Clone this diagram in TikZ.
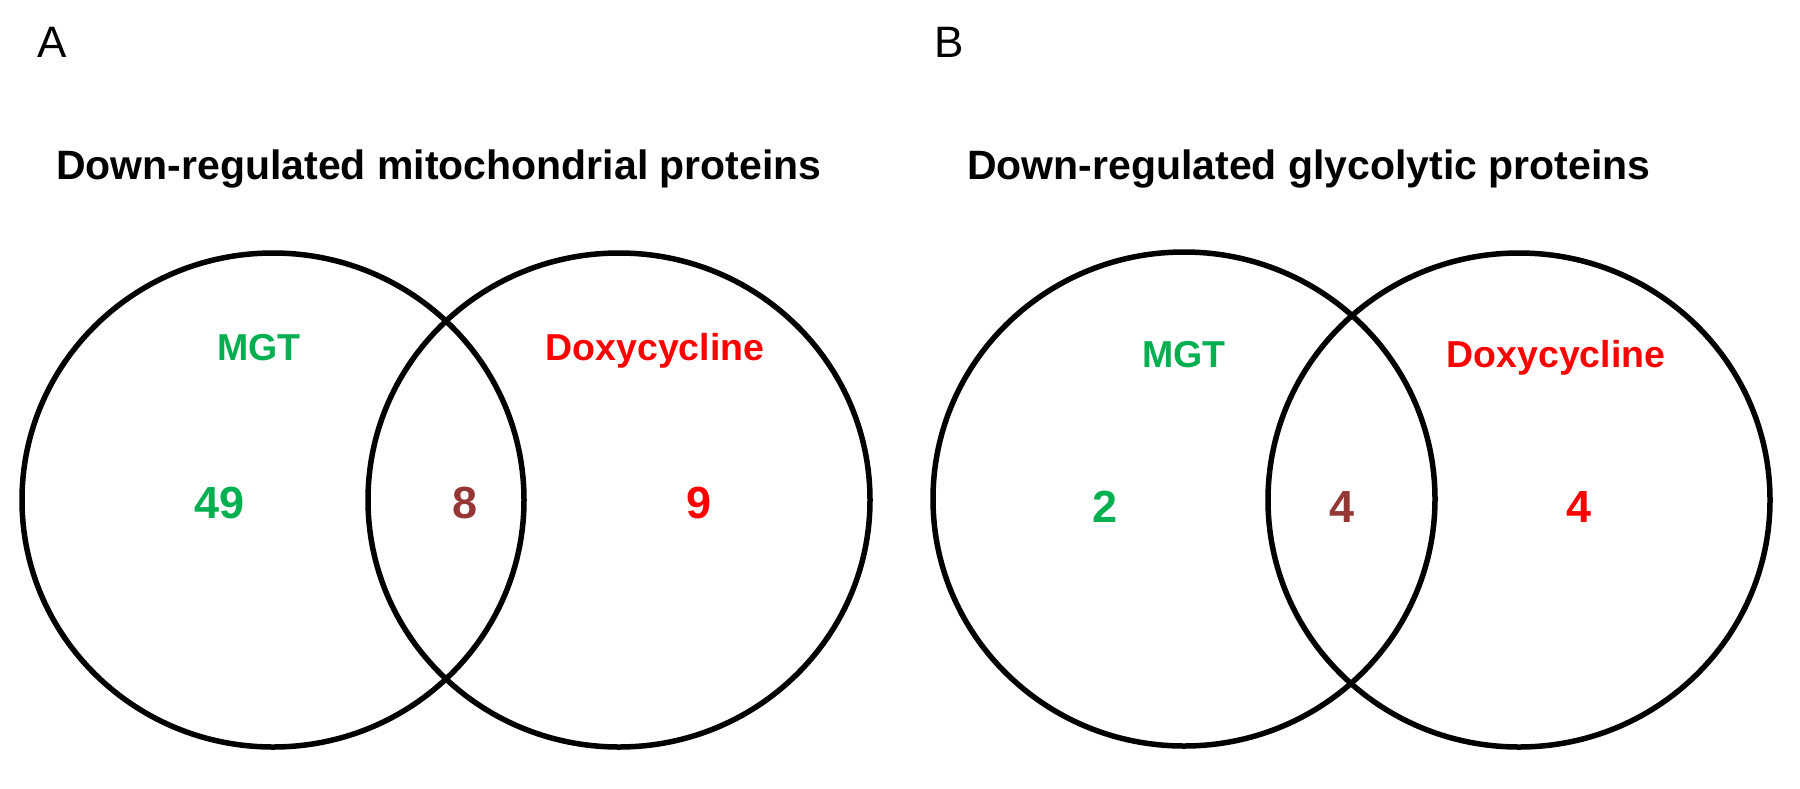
\documentclass[tikz,border=0pt]{standalone}
\usepackage{fontspec}
\setmainfont{Liberation Sans}
\usetikzlibrary{shapes.geometric}
\definecolor{vgreen}{RGB}{0,176,80}
\definecolor{vred}{RGB}{255,0,0}
\definecolor{vbrown}{RGB}{149,55,53}
\tikzset{
  venn/.style={draw=black, line width=5.5pt, ellipse, inner sep=0pt,
    minimum width=502pt, minimum height=494pt},
  panellabel/.style={anchor=base west, inner sep=0pt, font=\fontsize{44}{44}\selectfont},
  paneltitle/.style={anchor=base west, inner sep=0pt, font=\fontsize{41}{41}\selectfont\bfseries},
  setname/.style={anchor=base, inner sep=0pt, font=\fontsize{37.5}{37.5}\selectfont\bfseries},
  count/.style={anchor=base, inner sep=0pt, font=\fontsize{45}{45}\selectfont\bfseries},
}
\begin{document}
\begin{tikzpicture}[x=1pt,y=-1pt]
  \fill[white] (0,0) rectangle (1800,788);
  \useasboundingbox (0,0) rectangle (1800,788);
  % Panel A
  \node[panellabel] (labA) at (37,57) {A};
  \node[paneltitle] (titA) at (56,179) {Down-regulated mitochondrial proteins};
  \node[venn] (a1) at (273,500) {};
  \node[venn] (a2) at (619,500) {};
  \node[setname, text=vgreen] (mgtA) at (259,360) {MGT};
  \node[setname, text=vred] (doxA) at (655,360) {Doxycycline};
  \node[count, text=vgreen] (nA1) at (220,518) {49};
  \node[count, text=vbrown] (nA2) at (465,518) {8};
  \node[count, text=vred] (nA3) at (699,518) {9};
  % Panel B
  \node[panellabel] (labB) at (934,57) {B};
  \node[paneltitle] (titB) at (967,179) {Down-regulated glycolytic proteins};
  \node[venn] (b1) at (1184,499) {};
  \node[venn] (b2) at (1519,500) {};
  \node[setname, text=vgreen] (mgtB) at (1184,367) {MGT};
  \node[setname, text=vred] (doxB) at (1556,367) {Doxycycline};
  \node[count, text=vgreen] (nB1) at (1105,522) {2};
  \node[count, text=vbrown] (nB2) at (1342,522) {4};
  \node[count, text=vred] (nB3) at (1579,522) {4};
\end{tikzpicture}
\end{document}
